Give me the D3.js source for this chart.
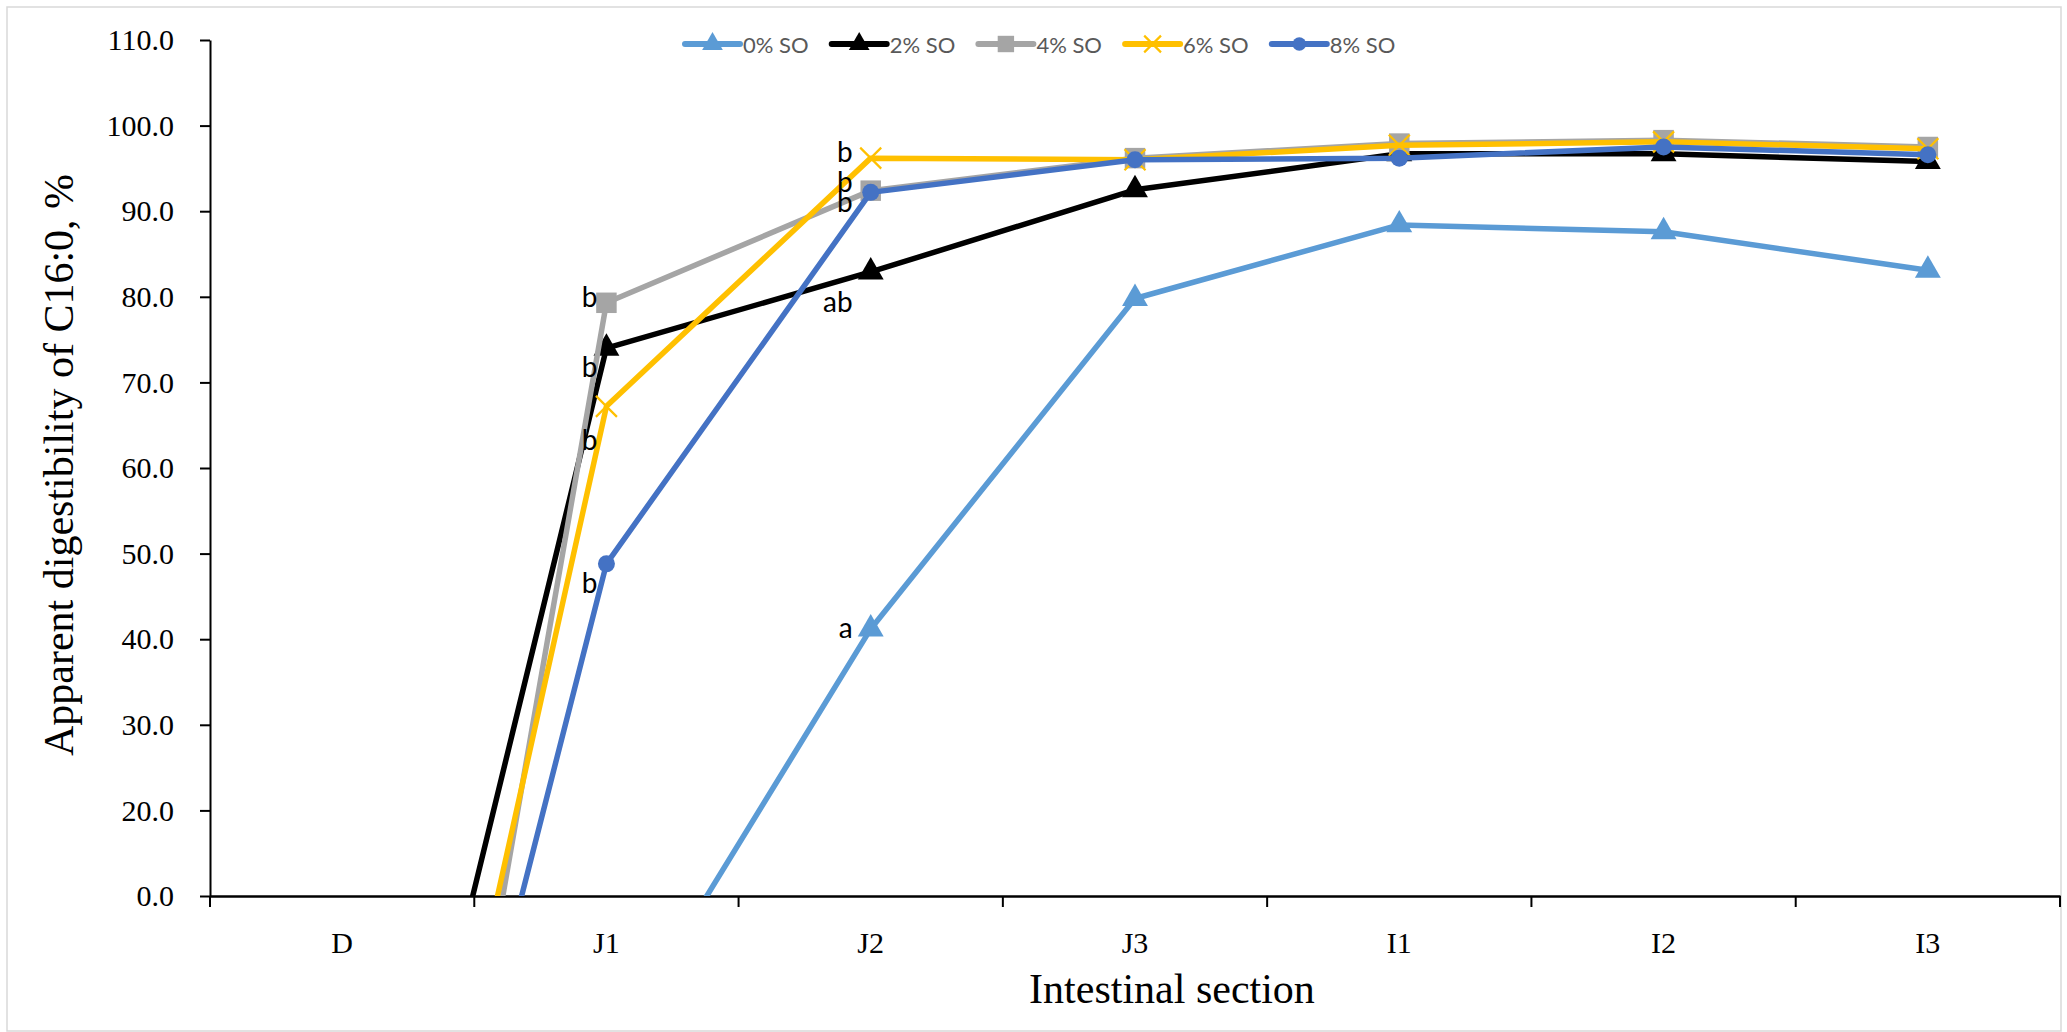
<!DOCTYPE html>
<html>
<head>
<meta charset="utf-8">
<script src="https://cdn.jsdelivr.net/npm/d3@7"></script>
<style>
  body { margin: 0; background: #fff; }
  text { fill: #000; }
</style>
</head>
<body>
<svg width="2067" height="1032"></svg>
<script>
var sections = ["D", "J1", "J2", "J3", "I1", "I2", "I3"];
var seriesNames = ["0% SO", "2% SO", "4% SO", "6% SO", "8% SO"];

// values under the axis floor get cut off at the bottom of the plot, like in the source
var so0 = [-40.0, -9.1, 41.2, 79.8, 88.4, 87.6, 83.1];
var so2 = [-52.5, 74.0, 82.9, 92.5, 96.7, 96.7, 95.8];
var so4 = [-97.5, 79.3, 92.4, 96.2, 97.9, 98.3, 97.5];
var so6 = [-71.6, 67.2, 96.2, 96.0, 97.7, 98.1, 97.3];
var so8 = [-72.1, 48.8, 92.2, 96.0, 96.2, 97.5, 96.6];

var yTicks = [10, 20, 30, 40, 50, 60, 70, 80, 90, 100, 110];
var yTickLabels = ["0.0", "20.0", "30.0", "40.0", "50.0", "60.0", "70.0", "80.0", "90.0", "100.0", "110.0"];

// significance letters, "at" is the baseline value on the y scale
var letterSeries = ["4% SO", "2% SO", "6% SO", "8% SO", "6% SO", "4% SO", "8% SO", "2% SO", "0% SO"];
var letterSection = ["J1", "J1", "J1", "J1", "J2", "J2", "J2", "J2", "J2"];
var letterText = ["b", "b", "b", "b", "b", "b", "b", "ab", "a"];
var letterAt = [78.8, 70.6, 62.1, 45.4, 95.7, 92.3, 89.9, 78.2, 40.1];

var colors = ["#5B9BD5", "#000000", "#A5A5A5", "#FFC000", "#4472C4"];
var markers = ["triangle", "triangle", "square", "x", "circle"];
var letterGap = { "J1": 9, "J2": 18 };

var svg = d3.select("svg"),
    width = +svg.attr("width"),
    height = +svg.attr("height");

var margin = { left: 210, right: 2060, top: 40, bottom: 896 };
var serif = "'Liberation Serif', 'Times New Roman', serif";
var sans = "Lato, 'Open Sans', sans-serif";

var series = [so0, so2, so4, so6, so8].map(function(vals, i) {
  return {
    name: seriesNames[i],
    color: colors[i],
    marker: markers[i],
    values: vals.map(function(v, j) { return { section: sections[j], value: v }; })
  };
});

var x = d3.scaleBand().domain(sections).range([margin.left, margin.right]);
var y = d3.scaleLinear().domain([10, 110]).range([margin.bottom, margin.top]);
function cx(s) { return x(s) + x.bandwidth() / 2; }

// outer chart border
svg.append("rect")
  .attr("x", 7).attr("y", 7)
  .attr("width", 2054).attr("height", 1024)
  .attr("fill", "none")
  .attr("stroke", "#D9D9D9")
  .attr("stroke-width", 1.5);

svg.append("defs").append("clipPath")
  .attr("id", "plot")
  .append("rect")
  .attr("x", margin.left)
  .attr("y", margin.top - 20)
  .attr("width", margin.right - margin.left)
  .attr("height", margin.bottom - margin.top + 20);

// y axis
var yAxis = svg.append("g")
  .attr("transform", "translate(" + margin.left + ",0)")
  .call(d3.axisLeft(y)
    .tickValues(yTicks)
    .tickFormat(function(d, i) { return yTickLabels[i]; })
    .tickSize(10)
    .tickSizeOuter(0)
    .tickPadding(26));
yAxis.selectAll("text").style("font-family", serif).style("font-size", "30px");
yAxis.selectAll("line, path").attr("stroke", "#000").attr("stroke-width", 2);

// x axis: labels centred, ticks on the category borders
var xAxis = svg.append("g")
  .attr("transform", "translate(0," + margin.bottom + ")")
  .call(d3.axisBottom(x).tickSize(0).tickSizeOuter(0).tickPadding(36));
xAxis.selectAll("text").style("font-family", serif).style("font-size", "30px");
xAxis.select("path").attr("stroke", "#000").attr("stroke-width", 2.5);

xAxis.selectAll("line.border")
  .data(sections.map(function(s) { return x(s); }).concat([margin.right]))
  .enter().append("line")
  .attr("class", "border")
  .attr("x1", function(d) { return d; })
  .attr("x2", function(d) { return d; })
  .attr("y1", 0).attr("y2", 11)
  .attr("stroke", "#000")
  .attr("stroke-width", 2);

// titles
svg.append("text")
  .attr("x", 1172).attr("y", 989)
  .attr("text-anchor", "middle")
  .attr("dominant-baseline", "central")
  .style("font-family", serif)
  .style("font-size", "42px")
  .text("Intestinal section");

svg.append("text")
  .attr("transform", "translate(59,465) rotate(-90)")
  .attr("text-anchor", "middle")
  .attr("dominant-baseline", "central")
  .style("font-family", serif)
  .style("font-size", "42px")
  .text("Apparent digestibility of C16:0, %");

function drawMarker(sel, d, scale) {
  var k = scale || 1;
  if (d.marker === "triangle") {
    sel.append("path")
      .attr("d", d3.symbol(d3.symbolTriangle, 290 * k * k)())
      .attr("fill", d.color);
  } else if (d.marker === "square") {
    sel.append("path")
      .attr("d", d3.symbol(d3.symbolSquare, 420 * k * k)())
      .attr("fill", d.color);
  } else if (d.marker === "circle") {
    sel.append("circle")
      .attr("r", 8.5 * k)
      .attr("fill", d.color);
  } else {
    var r = 10.5 * k;
    sel.append("path")
      .attr("d", "M" + (-r) + "," + (-r) + "L" + r + "," + r + "M" + (-r) + "," + r + "L" + r + "," + (-r))
      .attr("stroke", d.color)
      .attr("stroke-width", 2.2)
      .attr("fill", "none");
  }
}

var line = d3.line()
  .x(function(d) { return cx(d.section); })
  .y(function(d) { return y(d.value); });

var plot = svg.append("g").attr("clip-path", "url(#plot)");

series.forEach(function(s) {
  var g = plot.append("g").attr("class", "series");
  g.append("path")
    .datum(s.values)
    .attr("d", line)
    .attr("fill", "none")
    .attr("stroke", s.color)
    .attr("stroke-width", 5.5)
    .attr("stroke-linejoin", "round");
  g.selectAll("g.mark")
    .data(s.values)
    .enter().append("g")
    .attr("class", "mark")
    .attr("transform", function(d) { return "translate(" + cx(d.section) + "," + y(d.value) + ")"; })
    .each(function() { drawMarker(d3.select(this), s); });
});

// letters
svg.append("g")
  .selectAll("text")
  .data(letterText)
  .enter().append("text")
  .attr("x", function(t, i) { return cx(letterSection[i]) - letterGap[letterSection[i]]; })
  .attr("y", function(t, i) { return y(letterAt[i]); })
  .attr("text-anchor", "end")
  .style("font-family", sans)
  .style("font-size", "28px")
  .text(function(t) { return t; });

// legend
var legend = svg.append("g")
  .attr("transform", "translate(685,44)")
  .selectAll("g")
  .data(series)
  .enter().append("g")
  .attr("transform", function(d, i) { return "translate(" + (i * 146.7) + ",0)"; });

legend.append("line")
  .attr("x1", 0).attr("x2", 55)
  .attr("stroke", function(d) { return d.color; })
  .attr("stroke-width", 6)
  .attr("stroke-linecap", "round");

legend.append("g")
  .attr("transform", "translate(27.5,0)")
  .each(function(d) { drawMarker(d3.select(this), d, 0.8); });

legend.append("text")
  .attr("x", 58)
  .attr("dominant-baseline", "central")
  .style("font-family", sans)
  .style("font-size", "22px")
  .style("fill", "#595959")
  .text(function(d) { return d.name; });
</script>
</body>
</html>
